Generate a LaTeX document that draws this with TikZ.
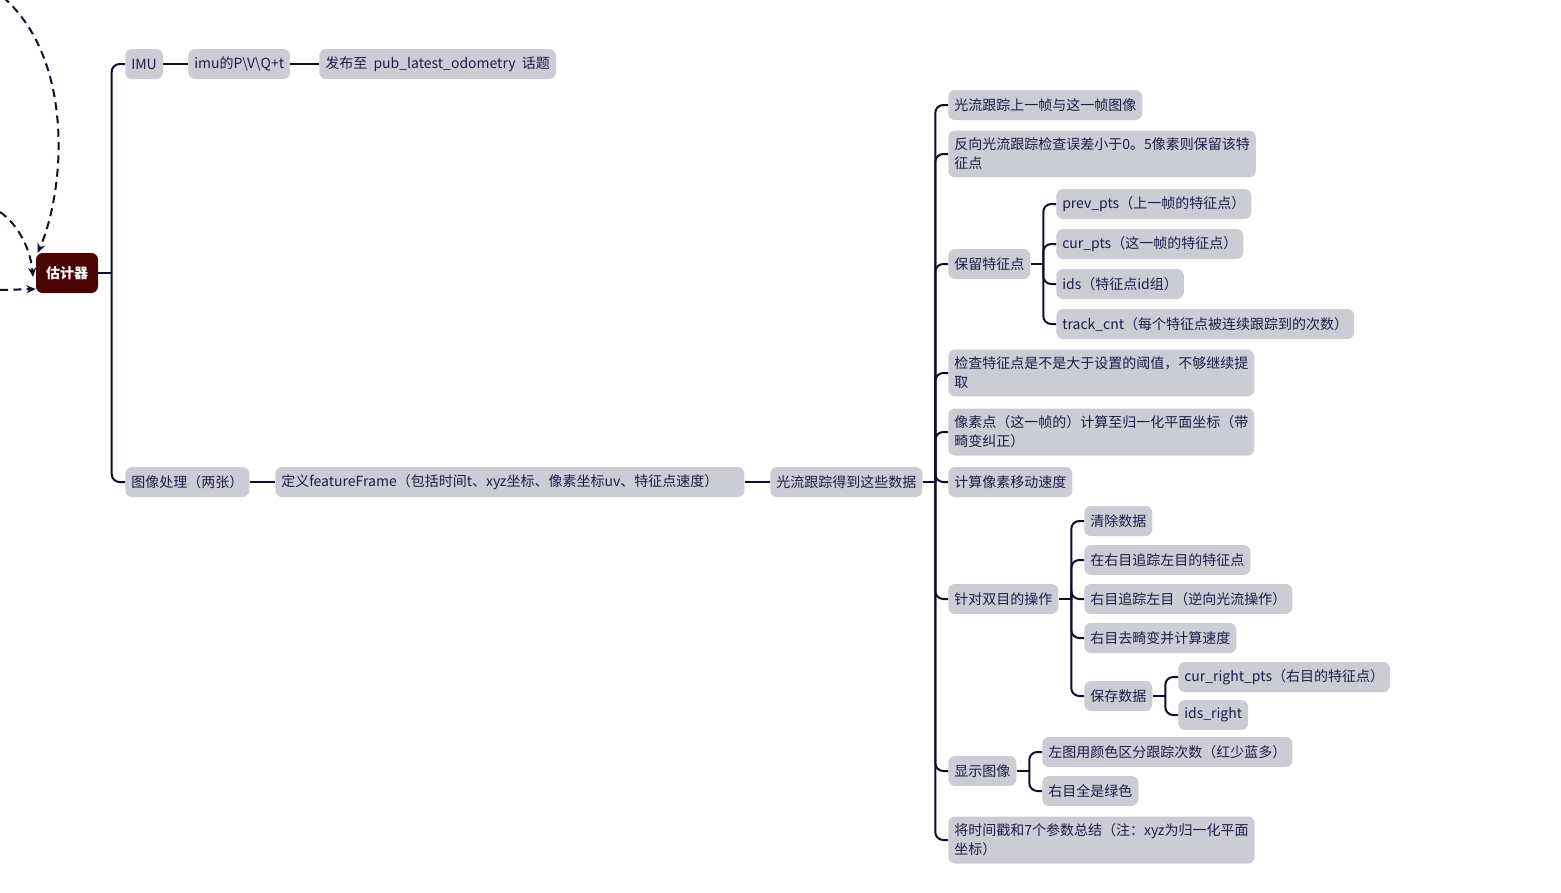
\documentclass[tikz,border=0pt]{standalone}
\usepackage{fontspec}
\setmainfont{Noto Sans CJK SC}
\usetikzlibrary{arrows.meta,positioning,calc}
\definecolor{topicfill}{HTML}{CCCCD4}
\definecolor{rootfill}{HTML}{4A0404}
\definecolor{inkline}{HTML}{0E0E2C}
\definecolor{inktext}{HTML}{1E1A4E}

\begin{document}
\begin{tikzpicture}[
  x=0.75pt, y=-0.75pt,
  topic/.style={fill=topicfill, rounded corners=5pt, text=inktext,
    font=\fontsize{10.5}{14.25}\selectfont, inner xsep=4.5pt, inner ysep=5.5pt,
    minimum height=22.5pt, anchor=west, align=left},
  root/.style={fill=rootfill, rounded corners=5pt, text=white,
    font=\fontsize{10.5}{12}\selectfont\bfseries, minimum width=46.5pt, minimum height=30pt},
  link/.style={draw=inkline, line width=1.5pt, rounded corners=6pt},
  flow/.style={draw=inkline, line width=1.5pt, dash pattern=on 6pt off 4pt,
    -{Stealth[length=7pt,width=6pt]}}
]
\useasboundingbox (0,0) rectangle (1561,893);

% root and first level
\node[root] (est) at (67,273) {估计器};
\node[topic] (imu) at (125,64) {IMU};
\node[topic] (pvq) at (188,64) {imu的P\textbackslash V\textbackslash Q+t};
\node[topic] (pub) at (319,64) {发布至\ \ pub\_latest\_odometry\ \ 话题};
\node[topic] (img) at (125,482) {图像处理（两张）};
\node[topic] (ff) at (275,482) {定义featureFrame（包括时间t、xyz坐标、像素坐标uv、特征点速度）\hspace*{15pt}};
\node[topic] (lk) at (770,482) {光流跟踪得到这些数据};

% optical flow steps
\node[topic] (s1) at (948,105) {光流跟踪上一帧与这一帧图像};
\node[topic] (s2) at (948,154) {反向光流跟踪检查误差小于0。5像素则保留该特\\征点};
\node[topic] (keep) at (948,264) {保留特征点};
\node[topic] (k1) at (1056,204) {prev\_pts（上一帧的特征点）};
\node[topic] (k2) at (1056,244) {cur\_pts（这一帧的特征点）};
\node[topic] (k3) at (1056,284) {ids（特征点id组）};
\node[topic] (k4) at (1056,324) {track\_cnt（每个特征点被连续跟踪到的次数）};
\node[topic] (s3) at (948,373) {检查特征点是不是大于设置的阈值，不够继续提\\取};
\node[topic] (s4) at (948,432) {像素点（这一帧的）计算至归一化平面坐标（带\\畸变纠正）};
\node[topic] (s5) at (948,482) {计算像素移动速度};
\node[topic] (stereo) at (948,599) {针对双目的操作};
\node[topic] (d1) at (1084,521) {清除数据};
\node[topic] (d2) at (1084,560) {在右目追踪左目的特征点};
\node[topic] (d3) at (1084,599) {右目追踪左目（逆向光流操作）};
\node[topic] (d4) at (1084,638) {右目去畸变并计算速度};
\node[topic] (save) at (1084,696) {保存数据};
\node[topic] (v1) at (1178,677) {cur\_right\_pts（右目的特征点）};
\node[topic] (v2) at (1178,715) {ids\_right};
\node[topic] (show) at (948,771) {显示图像};
\node[topic] (w1) at (1042,752) {左图用颜色区分跟踪次数（红少蓝多）};
\node[topic] (w2) at (1042,791) {右目全是绿色};
\node[topic] (s6) at (948,840) {将时间戳和7个参数总结（注：xyz为归一化平面\\坐标）};

% connectors: straight stub into the trunk, rounded bend at each child
\foreach \a/\b in {est/imu,est/img,lk/s1,lk/s2,lk/keep,lk/s3,lk/s4,lk/s5,lk/stereo,lk/show,lk/s6,
    keep/k1,keep/k2,keep/k3,keep/k4,stereo/d1,stereo/d2,stereo/d3,stereo/d4,stereo/save,
    save/v1,save/v2,show/w1,show/w2}
{
  \coordinate (fork) at ($(\a.east)!0.5!(\b.west)$);
  \draw[link] (\a.east) -- (fork |- \a.east);
  \draw[link] (fork |- \a.east) |- (\b.west);
}
\draw[link] (imu.east) -- (pvq.west);
\draw[link] (pvq.east) -- (pub.west);
\draw[link] (img.east) -- (ff.west);
\draw[link] (ff.east) -- (lk.west);

% incoming dashed arrows
\coordinate (srcA) at (3,-3);
\coordinate (srcB) at (0,212);
\coordinate (srcC) at (0,290);
\draw[flow] (srcA) .. controls (75,60) and (65,190) .. ([xshift=1.5pt]est.north west);
\draw[flow] (srcB) .. controls (15,222) and (30,245) .. ([xshift=-2pt,yshift=-3pt]est.west);
\draw[flow] (srcC) -- ([yshift=-12pt]est.west);
\end{tikzpicture}
\end{document}
